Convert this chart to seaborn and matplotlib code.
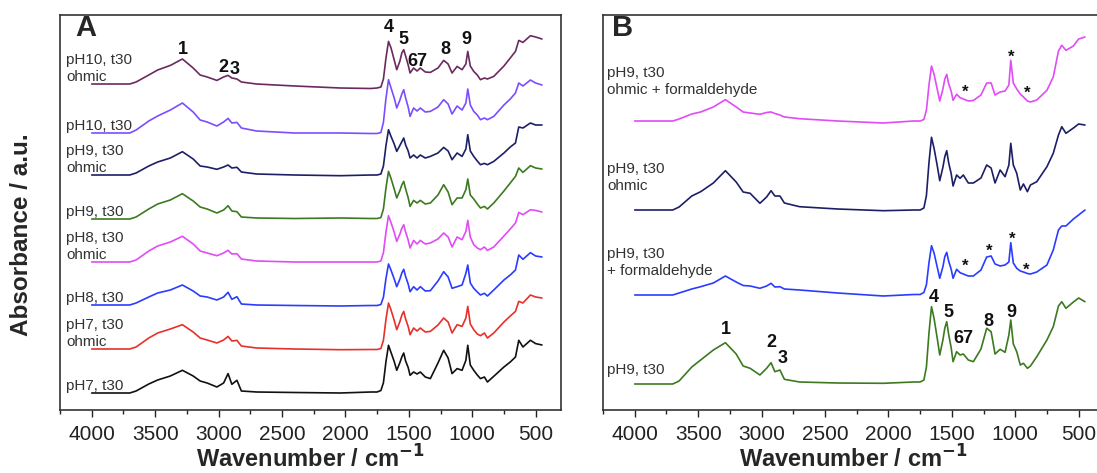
import numpy as np
import matplotlib
matplotlib.use("Agg")
import matplotlib.pyplot as plt
from matplotlib.ticker import MultipleLocator
import seaborn as sns

# -------------------
# DATA (absorbance above each trace's own baseline)
# -------------------
wavenumber = [4000, 3700, 3650, 3550, 3480, 3380, 3285, 3200, 3145, 3090, 3013, 2960, 2925, 2895,
              2855, 2820, 2700, 2400, 2040, 1800, 1750, 1720, 1700, 1680, 1660, 1640, 1615, 1595,
              1570, 1555, 1540, 1525, 1505, 1490, 1462, 1435, 1409, 1370, 1330, 1270, 1225, 1190,
              1159, 1119, 1080, 1050, 1035, 1015, 988, 960, 935, 904, 880, 830, 750, 700, 659, 633,
              600, 541, 500, 450]

# panel A
ph10_ohmic = [0, 0, 2, 9, 14, 18.6, 25, 16, 9, 7, 3.6, 7, 8.6, 6, 5, 2, 0, -2, -4, -4.5,
              -4, -3, 5, 26, 42.6, 36, 24, 14.3, 23, 31, 34.3, 28, 19, 11,
              16, 13, 16, 12, 11.6, 16, 23.6, 20, 11, 17.6, 14.3, 20, 32.6, 18, 12.6, 9, 4.3, 6, 5,
              7.6, 18, 26, 32.6, 43.6, 41.6, 48.3, 47, 45]
ph10 = [0, 0, 3, 12, 17, 23, 30, 21, 13, 11, 7, 11, 14.6, 10, 10.6, 5, 2, 0, 0, -0.5,
        -0.5, 0.5, 10.7, 34.6, 53.3, 45, 35, 25, 33, 39, 43.3, 35, 26, 16.6,
        25, 22, 25, 21, 21.6, 26, 33.3, 29, 19, 27, 23, 30, 44, 28, 21.6, 18, 13.3, 15, 13.3,
        16.6, 28, 34, 40, 50, 47, 53, 50, 48]
ph9_ohmic = [0, 0, 2, 9, 13, 17, 23.3, 16, 9, 8, 5.7, 8, 10, 7, 7.7, 3, 1, 0, -0.7, 0,
             0, 1, 9, 29.4, 45.3, 38.5, 31, 23.6, 29.6, 33.3, 37, 30, 24, 17,
             20, 17, 20, 17, 18.6, 22, 27.6, 24, 15.3, 22, 18.6, 26, 40.3, 24, 18.6, 14, 10.3, 11.6, 10.3,
             13.6, 22, 28, 32, 48, 47, 52, 50, 50]
ph9 = [0, 0, 2, 10, 15, 19, 25.3, 18, 12, 10, 6, 9, 13.3, 8, 7.3, 2, 1, 0.5, 1, 0.5,
       0.5, 1.5, 10, 31, 47.6, 40.5, 30, 21, 28.5, 34, 37.6, 30, 21.3, 12.6,
       18.6, 16, 18.6, 15, 16, 24, 34.3, 27, 14.3, 21, 21, 29.3, 40, 24, 20, 15, 11, 12.6, 10,
       16, 28, 36, 42.6, 51, 46.6, 53.3, 51, 50]
ph8_ohmic = [0, 0, 2, 11, 16, 20, 25.7, 18, 11, 9, 6.3, 9, 11.7, 8, 8.3, 3, 1, 0, 0, 0,
             0, 1, 9.3, 30, 46.3, 39.4, 29.6, 20.6, 28, 33.6, 37.3, 30, 22, 14,
             21.6, 18, 21.6, 18, 19, 23, 29, 25, 15, 25, 22.3, 30.6, 41.6, 25, 17.3, 14, 12.3, 15, 11.6,
             15, 26, 33, 39, 49.6, 47.3, 52.3, 51.6, 50]
ph8 = [0, 0, 2, 8, 12, 15, 20, 14, 9, 8, 5, 8, 12.7, 5.7, 8.3, 1, 0, -0.5, -1, -0.5,
       -0.5, 0.5, 7.8, 26.5, 41, 34.8, 26, 18.3, 26, 32, 35.7, 28.5, 21, 13.3,
       18.3, 15, 18.3, 14, 14.3, 24, 33.3, 28, 16.7, 18.3, 20, 31.7, 40, 22, 16.7, 13, 10, 11.7, 9,
       15, 25, 30, 35, 50, 45.7, 52.3, 49, 48]
ph7_ohmic = [0, 0, 2, 11, 16, 20, 24.3, 17, 11, 9, 6, 9, 12.6, 8, 8.6, 3, 1, 0, -0.7, -0.5,
             -0.5, 0.5, 8.8, 29.7, 46, 39, 28.6, 19.3, 27.5, 33.8, 37.6, 30, 22.5, 14.3,
             21, 18, 21, 17, 17.6, 24, 31, 27, 16, 24.3, 22.6, 31, 42.6, 25, 19.3, 15, 13.3, 16, 11,
             16, 27, 33, 37.6, 47.6, 46, 54, 52, 51]
ph7 = [0, 0, 2, 9, 13, 17, 22.7, 17, 12, 10, 6, 10, 19.4, 8.7, 12.7, 2, 1, 0.5, 0, 1,
       1, 2.5, 10.3, 31.4, 47.7, 40.5, 31.5, 22.7, 30.5, 36, 40, 32, 25.5, 17.7,
       21, 19, 21, 16, 14.4, 30, 42.7, 35, 19.4, 24.4, 22.7, 32.7, 47.7, 28, 22.7, 18, 14.4, 16, 11,
       16.7, 26, 31, 36, 52.7, 46, 52.7, 49.4, 48]

# panel B
ph9_ohmic_formaldehyde = [0, 0, 2, 7, 9, 14, 21.4, 14, 9, 8, 6.7, 8.5, 9, 7.5, 6, 4, 2.3, 0, -2, 0,
                          0, 1.5, 11, 35.8, 55, 46.8, 32, 20, 32, 42, 46.7, 37.4, 29.8, 20.7,
                          26.7, 23.4, 22, 20, 20.5, 26, 38, 38, 26, 29, 30, 36, 60.7, 38, 32, 27, 24, 20, 19,
                          21, 30.7, 44, 70, 75.7, 70.7, 75, 82, 84]
ph9_ohmic_b = [0, 0, 3, 14, 18.3, 27, 39.3, 28, 18, 16.7, 6.7, 13, 19.3, 14, 14, 7, 3.3, 1, -0.7, 0,
               0, 2, 14.5, 47.3, 72.7, 61.8, 44.5, 29.3, 42.8, 53.4, 59.3, 47.4, 36.4, 24,
               35, 31.7, 35, 27, 27, 32, 45, 42, 27, 40, 33.3, 45, 66.7, 45, 36.7, 20, 26, 18.3, 25,
               28.3, 43.3, 56.7, 75, 83.3, 76.7, 82, 86, 85]
ph9_formaldehyde = [0, 0, 2, 6, 8.3, 12, 19, 13, 9.5, 9, 6.7, 9, 11.7, 8, 8.3, 6, 5, 2, -1, 0.5,
                    0.5, 2.5, 10.3, 32.2, 49.3, 42, 28, 16.7, 28.4, 38.4, 42.7, 34, 25.8, 16.7,
                    25.7, 22.3, 21, 19, 19, 25, 38, 39, 31, 29, 30, 33, 52.3, 32, 26.7, 24, 23, 21.5, 21,
                    23, 30, 45, 65, 69, 69, 76, 80, 85]
ph9_b = [0, 0, 3, 17, 24, 34, 41.3, 30, 18, 15.7, 9, 15.7, 21.3, 12.3, 14, 4.7, 2, 1, 0.7, 2,
         2, 4, 17, 51, 77.3, 65.7, 45.8, 29, 44.1, 56, 62.3, 49.8, 36.3, 22.3,
         32.3, 29, 30, 24, 22.3, 35, 55.7, 52.3, 30, 34.7, 31.7, 49, 64, 40, 32.3, 19, 20.7, 15.7, 18,
         27.3, 44, 57.3, 78, 82.3, 75.7, 82, 86, 82.3]

labels_a = ["pH10, t30\nohmic", "pH10, t30", "pH9, t30\nohmic", "pH9, t30",
            "pH8, t30\nohmic", "pH8, t30", "pH7, t30\nohmic", "pH7, t30"]
labels_b = ["pH9, t30\nohmic + formaldehyde", "pH9, t30\nohmic", "pH9, t30\n+ formaldehyde", "pH9, t30"]

peak_names = ["1", "2", "3", "4", "5", "67", "8", "9"]

# -------------------
# LAYOUT / STYLE
# -------------------
series_a = [ph10_ohmic, ph10, ph9_ohmic, ph9, ph8_ohmic, ph8, ph7_ohmic, ph7]
colors_a = ["#6b2a5f", "#7b4dff", "#1d1f66", "#3c7a20", "#e04cf5", "#2a3cff", "#e8302a", "#111111"]
offsets_a = [326, 277, 235, 191, 148, 105, 61, 17]
label_y_a = [329, 280, 238, 194, 151, 108, 64, 20]

series_b = [ph9_ohmic_formaldehyde, ph9_ohmic_b, ph9_formaldehyde, ph9_b]
colors_b = ["#e04cf5", "#1d1f66", "#2a3cff", "#3c7a20"]
offsets_b = [289, 200, 115, 26]
label_y_b = [316, 220, 135, 36]

peak_pos_a = [(3282, 361), (2963, 343), (2870, 340), (1660, 382), (1546, 371), (1436, 348), (1212, 360), (1046, 371)]
peak_pos_b = [(3282, 81), (2921, 68), (2834, 52), (1646, 113), (1527, 98), (1409, 72), (1211, 89), (1027, 98)]
star_pos = [(1396, 318), (1032, 353), (908, 317), (1396, 144), (1203, 159), (1027, 171), (915, 140)]

sns.set_style("ticks")
plt.rcParams["font.family"] = ["Liberation Sans", "DejaVu Sans"]

W, H = 1097, 473
fig = plt.figure(figsize=(W / 100, H / 100), dpi=100)
ax_a = fig.add_axes([60 / W, 1 - 410 / H, 501 / W, 395 / H])
ax_b = fig.add_axes([603 / W, 1 - 410 / H, 501 / W, 395 / H])

for vals, off, col in zip(series_a, offsets_a, colors_a):
    sns.lineplot(x=wavenumber, y=np.array(vals) + off, ax=ax_a, color=col, lw=1.2, sort=False)
for vals, off, col in zip(series_b, offsets_b, colors_b):
    sns.lineplot(x=wavenumber, y=np.array(vals) + off, ax=ax_b, color=col, lw=1.2, sort=False)

for ax, labels, ly, lx in [(ax_a, labels_a, label_y_a, 4200), (ax_b, labels_b, label_y_b, 4215)]:
    for txt, y in zip(labels, ly):
        ax.text(lx, y, txt, fontsize=11, color="#333333", ha="left", va="baseline", linespacing=1.25)

for ax, pos in [(ax_a, peak_pos_a), (ax_b, peak_pos_b)]:
    for name, (x, y) in zip(peak_names, pos):
        ax.text(x, y, name, fontsize=13, fontweight="bold", ha="center", va="center", color="#111111")

for x, y in star_pos:
    ax_b.text(x, y, "*", fontsize=12, fontweight="bold", ha="center", va="center", color="#111111")

ax_a.text(4130, 396, "A", fontsize=21, fontweight="bold", ha="left", va="top")
ax_b.text(4180, 396, "B", fontsize=21, fontweight="bold", ha="left", va="top")

for ax in (ax_a, ax_b):
    ax.set_xlim(4250, 300)
    ax.set_ylim(0, 395)
    ax.set_yticks([])
    ax.set_xticks(range(4000, 499, -500))
    ax.xaxis.set_minor_locator(MultipleLocator(250))
    ax.tick_params(axis="x", which="major", direction="out", length=5, width=1, labelsize=15, colors="#222222", pad=6)
    ax.tick_params(axis="x", which="minor", direction="out", length=3, width=1, colors="#222222")
    for sp in ax.spines.values():
        sp.set_visible(True)
        sp.set_linewidth(1.2)
        sp.set_color("#333333")
    ax.set_xlabel("Wavenumber / cm$^{\\mathbf{-1}}$", fontsize=17, fontweight="bold", labelpad=1)
    ax.set_ylabel("")

fig.text(22 / W, 1 - 235 / H, "Absorbance / a.u.", rotation=90, fontsize=17.5, fontweight="bold",
         ha="center", va="center")

fig.savefig("out.png", dpi=100)
